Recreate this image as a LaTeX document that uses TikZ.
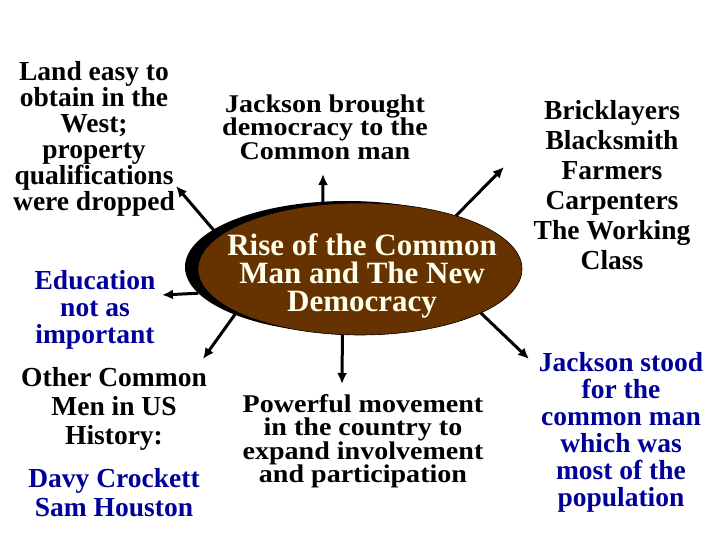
\documentclass[tikz,border=0pt]{standalone}
\usepackage{fontspec}
\setmainfont{Liberation Serif}
\newfontfamily\widefont[FakeStretch=1.1]{Liberation Serif}
\usepackage{xcolor}
\usepackage{tikz}
\usetikzlibrary{arrows.meta}
\usetikzlibrary{shapes.geometric}
\definecolor{risebrown}{RGB}{102,51,0}
\definecolor{navy}{RGB}{0,0,153}
\definecolor{cream}{RGB}{255,255,238}
\lineskiplimit=-50pt
\tikzset{>=latex}
\tikzset{txt/.style = {draw=none, align=center, inner sep = 0, font=\bfseries\fontsize{27.5}{#1}\selectfont}}
\tikzset{widetxt/.style = {draw=none, align=center, inner sep = 0, font=\widefont\bfseries\fontsize{25.5}{#1}\selectfont}}
\tikzstyle{arr} = [-{Latex[length=11pt, width=10pt]}, line width = 3pt]
\tikzstyle{oval} = [ellipse, minimum width = 324pt, minimum height = 132pt, inner sep = 0, outer sep = 0]

\begin{document}
\begin{tikzpicture}[x=1pt, y=-1pt]
\useasboundingbox [fill=white] (0,0) rectangle (720,540);
% centre oval with its shadow
\node [oval, fill=black] (shade) at (347, 267) {};
\node [oval, fill=risebrown, draw=black, line width = 0.6pt] (rise) at (360, 269) {};
\node [align=center, inner sep = 0, text=cream, font=\bfseries\fontsize{31}{28}\selectfont] (title) at (362, 276) {Rise of the Common\\Man and The New\\Democracy};
% labels round it
\node [txt=26] (land) at (94, 139) {Land easy to\\obtain in the\\West;\\property\\qualifications\\were dropped};
\node [txt=27, text=navy] (educ) at (95, 310) {Education\\not as\\important};
\node [txt=29] (other) at (114, 409) {Other Common\\Men in US\\History:};
\node [txt=29, text=navy] (davy) at (114, 493) {Davy Crockett\\Sam Houston};
\node [widetxt=23.5] (jackson) at (325, 127) {Jackson brought\\democracy to the\\Common man};
\node [widetxt=23.5] (power) at (363, 441) {Powerful movement\\in the country to\\expand involvement\\and participation};
\node [txt=30] (trades) at (612, 185) {Bricklayers\\Blacksmith\\Farmers\\Carpenters\\The Working\\Class};
\node [txt=27, text=navy] (stood) at (621, 432) {Jackson stood\\for the\\common man\\which was\\most of the\\population};
% arrow tips
\coordinate (jtip) at (323, 174);
\coordinate (ltip) at (176, 186);
\coordinate (etip) at (162, 295);
\coordinate (otip) at (203, 359);
\coordinate (ptip) at (342, 384);
\coordinate (ttip) at (504, 167);
\coordinate (stip) at (529, 359);
\draw [arr] (rise.120) to (jtip);
\draw [arr] (rise.167) to (ltip);
\draw [arr] (shade.190) to (etip);
\draw [arr] (shade.203) to (otip);
\draw [arr] (rise.255) to (ptip);
\draw [arr] (rise.29) to (ttip);
\draw [arr] (rise.340) to (stip);
\end{tikzpicture}
\end{document}
